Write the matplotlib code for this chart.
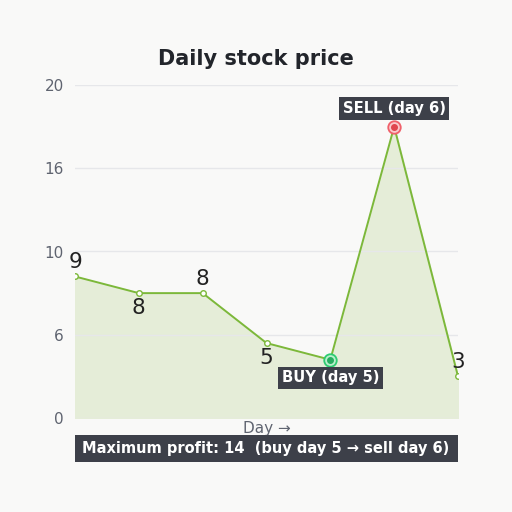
import matplotlib
matplotlib.use("Agg")
import matplotlib.pyplot as plt

days = [1, 2, 3, 4, 5, 6, 7]
prices = [9, 8, 8, 5, 4, 18, 3]
label_pos = ["above", "below", "above", "below", None, None, "above"]
buy_day, sell_day = 5, 6
tick_values = [0.5, 5.5, 10.5, 15.5, 20.5]
tick_labels = [str(round(v)) for v in tick_values]

BG = "#f9f9f8"
LINE = "#7cb83a"
FILL = "#e5edd8"
DARK = "#3d4049"
GRAY = "#5f6470"

fig = plt.figure(figsize=(5.12, 5.12), dpi=100, facecolor=BG)
ax = fig.add_axes([75/512, 1-418/512, (458-75)/512, (418-85)/512])
ax.set_facecolor(BG)

ax.fill_between(days, prices, 0.5, color=FILL, zorder=1)
ax.plot(days, prices, color=LINE, lw=1.4, zorder=3)
ax.plot(days, prices, 'o', ms=4, mfc="white", mec=LINE, mew=1, zorder=4)

for d, p, pos in zip(days, prices, label_pos):
    if pos is None:
        continue
    off = 10.5 if pos == "above" else -11
    ax.annotate(str(p), (d, p), xytext=(0, off), textcoords="offset points",
                ha="center", va="center", fontsize=15.5, color="#222222", zorder=6)

bi = days.index(buy_day)
si = days.index(sell_day)
ax.plot(buy_day, prices[bi], 'o', ms=9, mfc="#b9efcc", mec="#2ecc71", mew=1.3, zorder=5)
ax.plot(buy_day, prices[bi], 'o', ms=4, mfc="#27ae60", mec="#27ae60", zorder=6)
ax.plot(sell_day, prices[si], 'o', ms=9, mfc="#f9c9cc", mec="#f0606a", mew=1.3, zorder=5)
ax.plot(sell_day, prices[si], 'o', ms=4, mfc="#e0454f", mec="#e0454f", zorder=6)

box = dict(boxstyle="square,pad=0.25", fc=DARK, ec="none")
ax.annotate(f"BUY (day {buy_day})", (buy_day, prices[bi]), xytext=(0, -13),
            textcoords="offset points", ha="center", va="center", fontsize=10.6,
            fontweight="bold", color="white", bbox=box, zorder=7)
ax.annotate(f"SELL (day {sell_day})", (sell_day, prices[si]), xytext=(0, 13),
            textcoords="offset points", ha="center", va="center", fontsize=10.6,
            fontweight="bold", color="white", bbox=box, zorder=7)

ax.set_xlim(days[0], days[-1])
ax.set_ylim(tick_values[0], tick_values[-1])
ax.set_yticks(tick_values)
ax.set_yticklabels(tick_labels)
ax.set_xticks([])
ax.tick_params(axis="y", length=0, pad=8, labelsize=11, labelcolor=GRAY)
ax.grid(axis="y", color="#e6e7ea", lw=1, zorder=0)
for s in ax.spines.values():
    s.set_visible(False)

ax.set_xlabel("Day \u2192", fontsize=11, color=GRAY, labelpad=2)

fig.text(0.5, 1-59/512, "Daily stock price", ha="center", va="center",
         fontsize=15, fontweight="bold", color="#22252b")

profit = prices[si] - prices[bi]
fig.patches.append(plt.Rectangle((75/512, 1-462/512), (458-75)/512, 27/512,
                                 transform=fig.transFigure, fc=DARK, ec="none"))
fig.text(266/512, 1-448.5/512,
         f"Maximum profit: {profit}  (buy day {buy_day} \u2192 sell day {sell_day})",
         ha="center", va="center", fontsize=10.5, fontweight="bold", color="white")

fig.savefig("out.png", dpi=100, facecolor=BG)
